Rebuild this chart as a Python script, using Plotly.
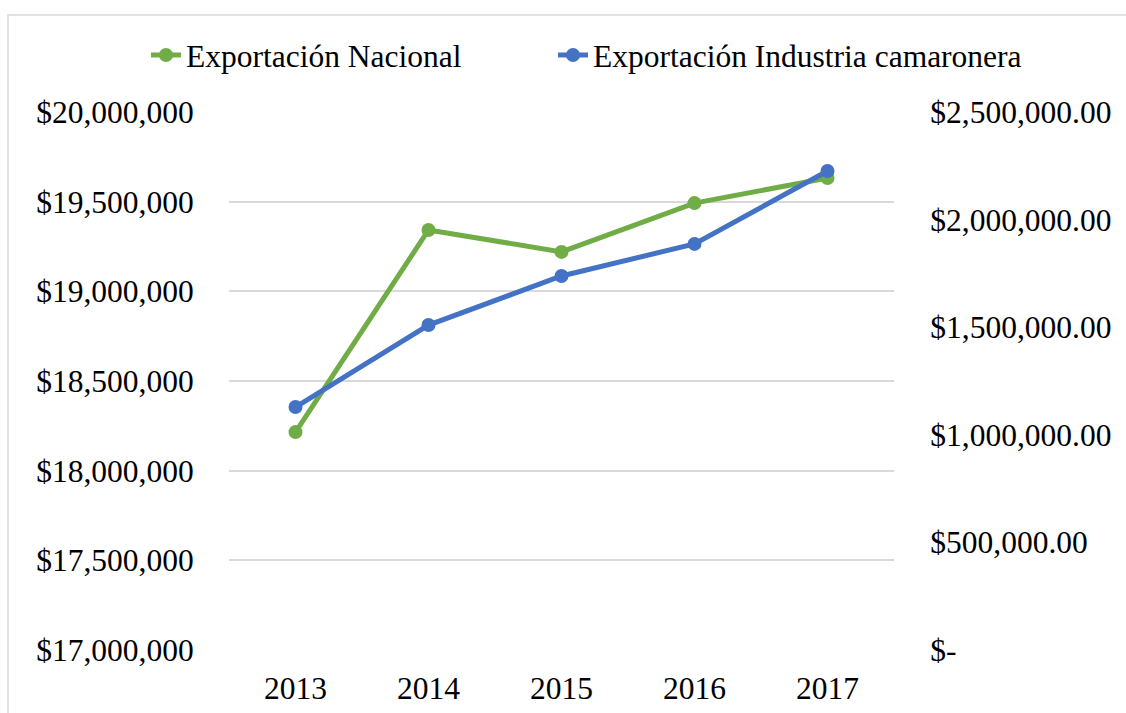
import plotly.graph_objects as go

years = ["2013", "2014", "2015", "2016", "2017"]
nacional = [18215000, 19342000, 19220000, 19492000, 19632000]
camaronera = [1129000, 1510000, 1738000, 1887000, 2226000]
left_ticks = [17000000, 17500000, 18000000, 18500000, 19000000, 19500000, 20000000]
right_ticks = [0, 500000, 1000000, 1500000, 2000000, 2500000]

green = "#70AD47"
blue = "#4472C4"
font = "Liberation Serif, Times New Roman, serif"

W, H = 1126, 713
L, R, T, B = 229, 894, 112, 650
FS = 31.5

fig = go.Figure()
fig.add_trace(go.Scatter(x=years, y=nacional, name="Exportación Nacional",
                         mode="lines+markers", line=dict(color=green, width=5),
                         marker=dict(size=14, color=green), yaxis="y", legend="legend"))
fig.add_trace(go.Scatter(x=years, y=camaronera, name="Exportación Industria camaronera",
                         mode="lines+markers", line=dict(color=blue, width=5),
                         marker=dict(size=14, color=blue), yaxis="y2", legend="legend2"))

left_text = ["${:,.0f}".format(v) for v in left_ticks]
right_text = ["$-" if v == 0 else "${:,.2f}".format(v) for v in right_ticks]

pw = R - L
ph = B - T
leg_common = dict(orientation="h", xanchor="left", yanchor="middle", y=(B - 55) / ph,
                  font=dict(size=FS), bgcolor="rgba(0,0,0,0)")
fig.update_layout(
    width=W, height=H,
    margin=dict(l=L, r=W - R, t=T, b=H - B, autoexpand=False),
    paper_bgcolor="white", plot_bgcolor="white",
    font=dict(family=font, size=FS, color="black"),
    showlegend=True,
    legend=dict(x=(146 - L) / pw, **leg_common),
    legend2=dict(x=(553 - L) / pw, **leg_common),
    xaxis=dict(type="category", showgrid=False, showline=False, zeroline=False,
               ticks="outside", ticklen=10, tickcolor="rgba(0,0,0,0)",
               range=[-0.5, 4.5], tickfont=dict(size=FS)),
    yaxis=dict(range=[17000000, 20000000], tickvals=left_ticks, ticktext=left_text,
               showgrid=True, gridcolor="#D9D9D9", gridwidth=1.5, zeroline=False,
               showline=False, ticks="outside", ticklen=28, tickcolor="rgba(0,0,0,0)"),
    yaxis2=dict(range=[0, 2500000], tickvals=right_ticks, ticktext=right_text,
                overlaying="y", side="right", showgrid=False, zeroline=False,
                showline=False, ticks="outside", ticklen=29, tickcolor="rgba(0,0,0,0)"),
    shapes=[dict(type="rect", xref="paper", yref="paper",
                 x0=(8 - L) / pw, x1=(W + 5 - L) / pw,
                 y0=(B - (H + 5)) / ph, y1=(B - 15) / ph,
                 line=dict(color="#D9D9D9", width=1.5), fillcolor="rgba(0,0,0,0)", layer="below")],
)

fig.write_html("out.html", config={"displayModeBar": False},
               post_script="document.body.style.margin='0';document.body.style.overflow='hidden';")
